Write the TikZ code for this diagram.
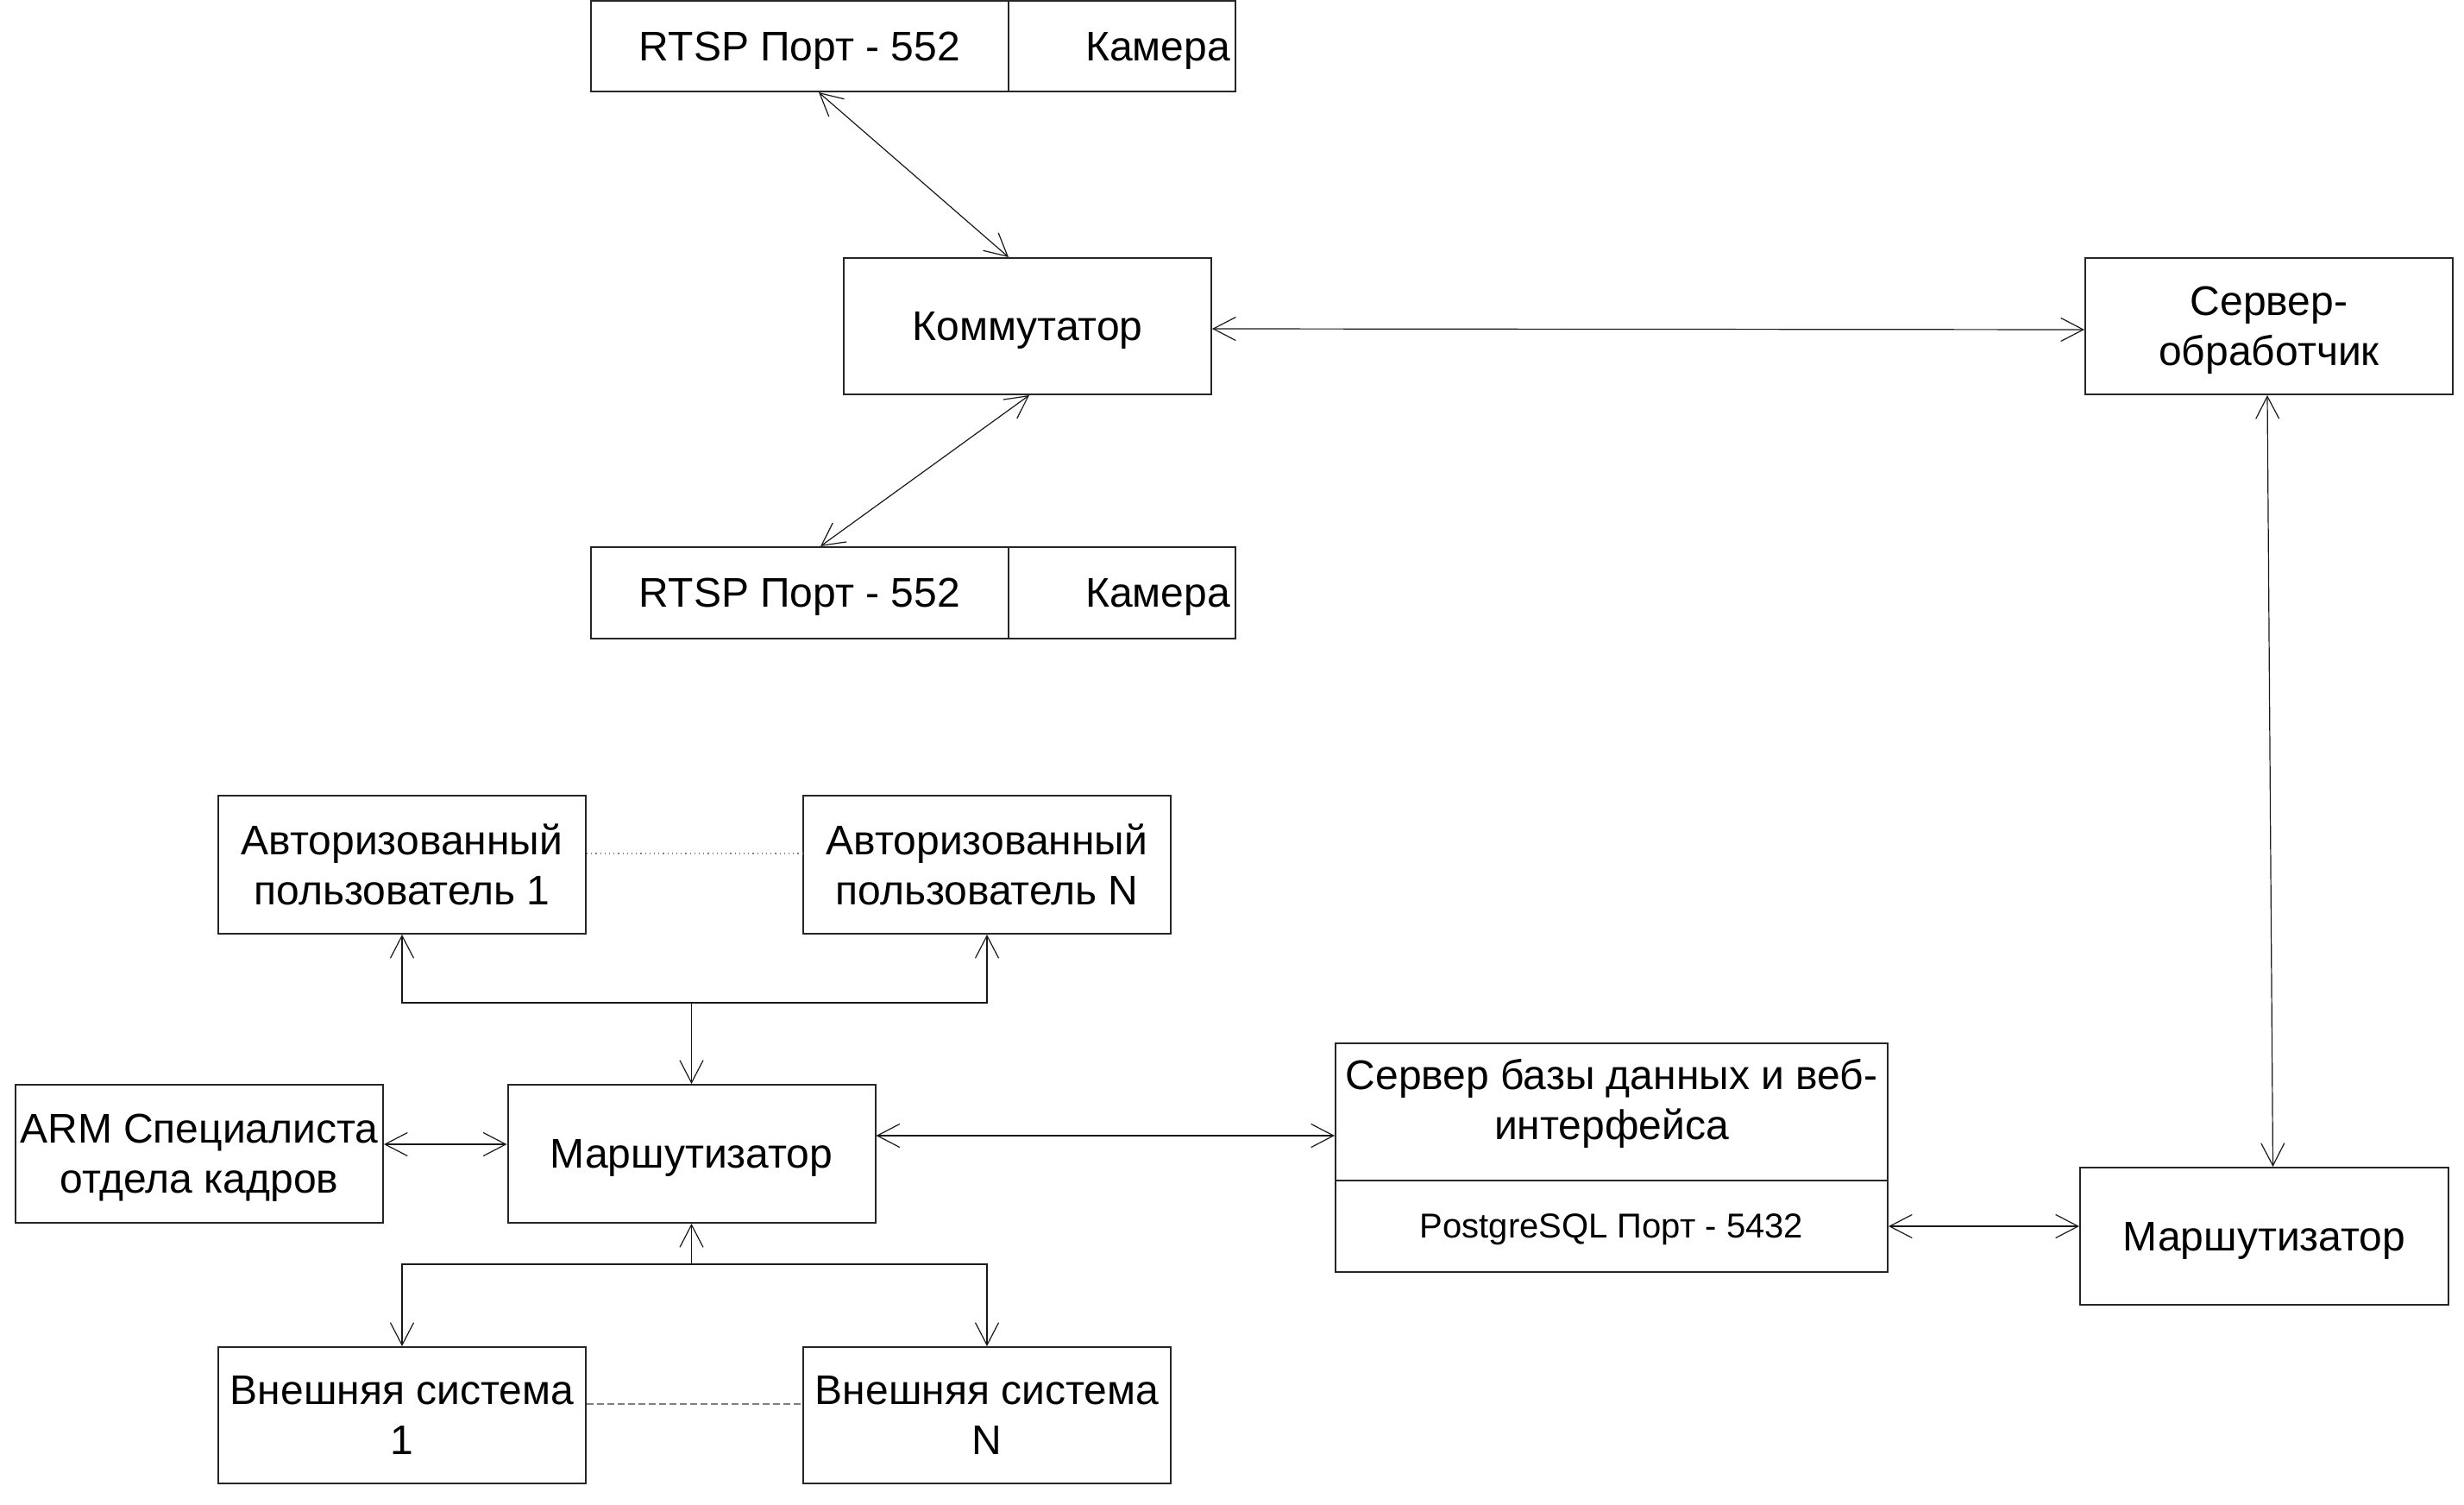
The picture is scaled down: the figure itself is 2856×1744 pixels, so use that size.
\documentclass[tikz,border=0pt]{standalone}
\usepackage{fontspec}
\setmainfont{Liberation Sans}
\usetikzlibrary{arrows.meta}
\begin{document}
\begin{tikzpicture}[x=0.5pt,y=-0.5pt,
  box/.style={draw=black!85,line width=1pt,inner sep=2pt,align=center,text depth=0pt,
    font=\fontsize{24}{29}\selectfont,minimum width=213pt,minimum height=79.5pt},
  conn/.style={line width=0.6pt,black!90},
  >={Straight Barb[length=13pt,width=13.5pt]}]
\useasboundingbox (0,0) rectangle (2856,1744);
% cameras
\node[box,minimum width=242pt,minimum height=52.5pt] (camL) at (927,53.5) {RTSP Порт - 552};
\node[box,minimum width=0pt,text width=125.5pt,minimum height=52.5pt,inner sep=3pt,align=right] (camR) at (1300.5,53.5) {Камера};
\node[box,minimum width=242pt,minimum height=53pt] (camBL) at (927,687) {RTSP Порт - 552};
\node[box,minimum width=0pt,text width=125.5pt,minimum height=53pt,inner sep=3pt,align=right] (camBR) at (1300.5,687) {Камера};
% switch and processing server
\node[box,minimum height=79pt] (komm) at (1191,378) {Коммутатор};
\node[box,minimum height=79pt] (srv) at (2630,378) {Сервер-\\обработчик};
% users
\node[box,minimum height=80pt] (au1) at (466,1002) {Авторизованный\\пользователь 1};
\node[box,minimum height=80pt] (auN) at (1144,1002) {Авторизованный\\пользователь N};
% router left and ARM
\node[box,minimum height=80pt] (arm) at (231,1337) {ARM Специалиста\\отдела кадров};
\node[box,minimum height=80pt] (rtrL) at (801.5,1337) {Маршутизатор};
% external systems
\node[box,minimum height=79pt] (ex1) at (466,1640) {Внешняя система\\1};
\node[box,minimum height=79pt] (exN) at (1144,1640) {Внешняя система\\N};
% DB server
\node[box,minimum width=320pt,minimum height=79.5pt] (dbtop) at (1868,1288.5) {};
\node[align=center,inner sep=0pt,text depth=0pt,font=\fontsize{24}{29}\selectfont] (dbtxt) at (1868,1274) {Сервер базы данных и веб-\\интерфейса};
\node[box,minimum width=320pt,minimum height=53pt,font=\fontsize{20}{24}\selectfont] (dbl) at (1868,1421) {PostgreSQL Порт - 5432};
% router right
\node[box,minimum width=213.5pt,minimum height=79.5pt] (rtrR) at (2624.5,1432.5) {Маршутизатор};
% connectors
\draw[conn,<->] ([xshift=11pt]camL.south) -- ([xshift=-11pt]komm.north);
\draw[conn,<->] ([xshift=1pt]komm.south) -- ([xshift=12pt]camBL.north);
\draw[conn,<->] ([yshift=-1.5pt]komm.east) -- ([yshift=-2pt]srv.west);
\draw[conn,<->] ([xshift=-1pt]srv.south) -- ([xshift=5pt]rtrR.north);
\draw[conn,<->] (dbl.east) -- (dbl.east -| rtrR.west);
\draw[conn,<->] ([yshift=10.5pt]rtrL.east) -- ([yshift=10.5pt]rtrL.east -| dbtop.west);
\draw[conn,<->] ([yshift=5.5pt]arm.east) -- ([yshift=5.5pt]rtrL.west);
\coordinate (jt) at (801.5,1162);
\coordinate (jb) at (801.5,1465);
\draw[conn,<->] (au1.south) |- (jt) -| (auN.south);
\draw[conn,->] (jt) -- (rtrL.north);
\draw[conn,<-] (rtrL.south) -- (jb);
\draw[conn,<->] (ex1.north) |- (jb) -| (exN.north);
\draw[gray,line width=0.6pt,dotted] ([yshift=6.5pt]au1.east) -- ([yshift=6.5pt]auN.west);
\draw[gray,line width=0.6pt,dash pattern=on 4pt off 2pt] ([yshift=6.5pt]ex1.east) -- ([yshift=6.5pt]exN.west);
\end{tikzpicture}
\end{document}
